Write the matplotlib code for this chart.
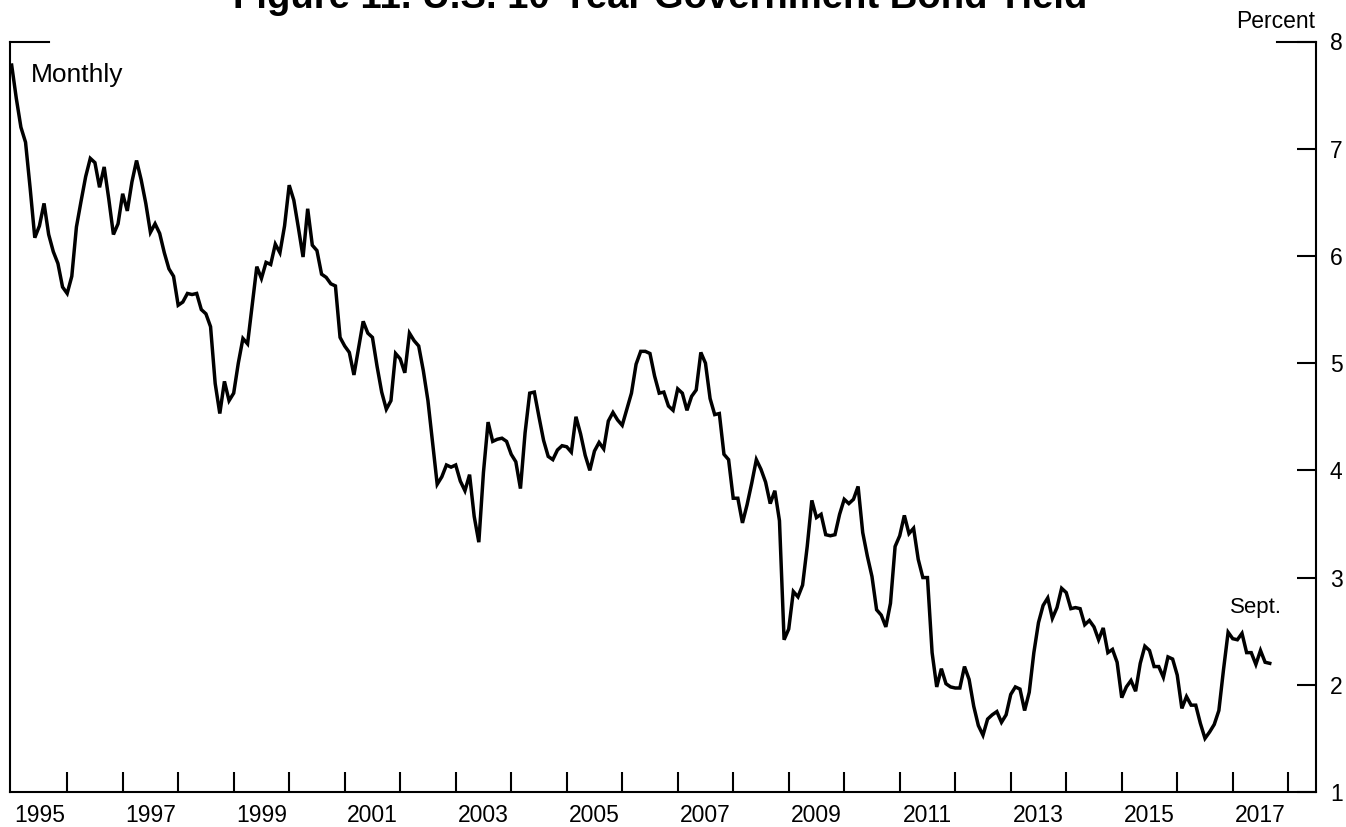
import numpy as np
import matplotlib
matplotlib.use("Agg")
import matplotlib.pyplot as plt
from matplotlib.lines import Line2D

plt.rcParams['font.family'] = ['Liberation Sans', 'DejaVu Sans']

start_year = 1995
yields = [
    # 1995
    7.78, 7.47, 7.20, 7.06, 6.63, 6.17, 6.28, 6.49, 6.20, 6.04, 5.93, 5.71,
    # 1996
    5.65, 5.81, 6.27, 6.51, 6.74, 6.91, 6.87, 6.64, 6.83, 6.53, 6.20, 6.30,
    # 1997
    6.58, 6.42, 6.69, 6.89, 6.71, 6.49, 6.22, 6.30, 6.21, 6.03, 5.88, 5.81,
    # 1998
    5.54, 5.57, 5.65, 5.64, 5.65, 5.50, 5.46, 5.34, 4.81, 4.53, 4.83, 4.65,
    # 1999
    4.72, 5.00, 5.23, 5.18, 5.54, 5.90, 5.79, 5.94, 5.92, 6.11, 6.03, 6.28,
    # 2000
    6.66, 6.52, 6.26, 5.99, 6.44, 6.10, 6.05, 5.83, 5.80, 5.74, 5.72, 5.24,
    # 2001
    5.16, 5.10, 4.89, 5.14, 5.39, 5.28, 5.24, 4.97, 4.73, 4.57, 4.65, 5.09,
    # 2002
    5.04, 4.91, 5.28, 5.21, 5.16, 4.93, 4.65, 4.26, 3.87, 3.94, 4.05, 4.03,
    # 2003
    4.05, 3.90, 3.81, 3.96, 3.57, 3.33, 3.98, 4.45, 4.27, 4.29, 4.30, 4.27,
    # 2004
    4.15, 4.08, 3.83, 4.35, 4.72, 4.73, 4.50, 4.28, 4.13, 4.10, 4.19, 4.23,
    # 2005
    4.22, 4.17, 4.50, 4.34, 4.14, 4.00, 4.18, 4.26, 4.20, 4.46, 4.54, 4.47,
    # 2006
    4.42, 4.57, 4.72, 4.99, 5.11, 5.11, 5.09, 4.88, 4.72, 4.73, 4.60, 4.56,
    # 2007
    4.76, 4.72, 4.56, 4.69, 4.75, 5.10, 5.00, 4.67, 4.52, 4.53, 4.15, 4.10,
    # 2008
    3.74, 3.74, 3.51, 3.68, 3.88, 4.10, 4.01, 3.89, 3.69, 3.81, 3.53, 2.42,
    # 2009
    2.52, 2.87, 2.82, 2.93, 3.29, 3.72, 3.56, 3.59, 3.40, 3.39, 3.40, 3.59,
    # 2010
    3.73, 3.69, 3.73, 3.85, 3.42, 3.20, 3.01, 2.70, 2.65, 2.54, 2.76, 3.29,
    # 2011
    3.39, 3.58, 3.41, 3.46, 3.17, 3.00, 3.00, 2.30, 1.98, 2.15, 2.01, 1.98,
    # 2012
    1.97, 1.97, 2.17, 2.05, 1.80, 1.62, 1.53, 1.68, 1.72, 1.75, 1.65, 1.72,
    # 2013
    1.91, 1.98, 1.96, 1.76, 1.93, 2.30, 2.58, 2.74, 2.81, 2.62, 2.72, 2.90,
    # 2014
    2.86, 2.71, 2.72, 2.71, 2.56, 2.60, 2.54, 2.42, 2.53, 2.30, 2.33, 2.21,
    # 2015
    1.88, 1.98, 2.04, 1.94, 2.20, 2.36, 2.32, 2.17, 2.17, 2.07, 2.26, 2.24,
    # 2016
    2.09, 1.78, 1.89, 1.81, 1.81, 1.64, 1.50, 1.56, 1.63, 1.76, 2.14, 2.49,
    # 2017
    2.43, 2.42, 2.48, 2.30, 2.30, 2.19, 2.32, 2.21, 2.20,
]
year_labels = ['1995', '1997', '1999', '2001', '2003', '2005', '2007',
               '2009', '2011', '2013', '2015', '2017']
y_ticks = [1, 2, 3, 4, 5, 6, 7, 8]

x = start_year + np.arange(len(yields)) / 12.0

fig = plt.figure(figsize=(13.46, 8.27), dpi=100)
W, H = 1346, 827
left, right, top, bottom = 10, 1316, 41.5, 792
ax = fig.add_axes([left / W, 1 - bottom / H, (right - left) / W, (bottom - top) / H])

ax.plot(x, yields, color='black', lw=2.5, solid_joinstyle='miter')

ax.set_xlim(1994.97, 2018.5)
ax.set_ylim(1, 8)

for s in ['left', 'right', 'bottom']:
    ax.spines[s].set_linewidth(1.5)
ax.spines['top'].set_visible(False)

# x ticks: year boundaries, labels mid-year
ax.set_xticks(np.arange(1996, 2019))
ax.set_xticklabels([])
ax.set_xticks([int(y) + 0.5 for y in year_labels], minor=True)
ax.set_xticklabels(year_labels, minor=True)
ax.tick_params(axis='x', which='major', direction='in', length=14.4, width=1.5,
               top=False, bottom=True)
ax.tick_params(axis='x', which='minor', length=0, labelsize=16.5, pad=9)

# y ticks on right
ax.yaxis.tick_right()
ax.set_yticks(y_ticks)
ax.set_yticklabels([str(v) for v in y_ticks])
ax.tick_params(axis='y', which='major', direction='in', length=13.7, width=1.5,
               labelsize=16.5, pad=10, left=False, right=True)

# short top corner segments
ax.add_line(Line2D([0, 39 / (right - left)], [1, 1], transform=ax.transAxes,
                   color='black', lw=1.5, clip_on=False))
ax.add_line(Line2D([1 - 39 / (right - left), 1], [1, 1], transform=ax.transAxes,
                   color='black', lw=1.5, clip_on=False))

ax.text(0.016, 0.955, 'Monthly', transform=ax.transAxes, fontsize=19,
        ha='left', va='center')
ax.text(2017.42, 2.72, 'Sept.', fontsize=16, ha='center', va='center')
fig.text(1315 / W, 1 - 21 / H, 'Percent', fontsize=16.5, ha='right', va='center')
fig.text(660 / W, 1 - 8 / H, 'Figure 11. U.S. 10-Year Government Bond Yield',
         fontsize=27.5, fontweight='bold', ha='center', va='baseline')

fig.savefig('out.png', dpi=100)
